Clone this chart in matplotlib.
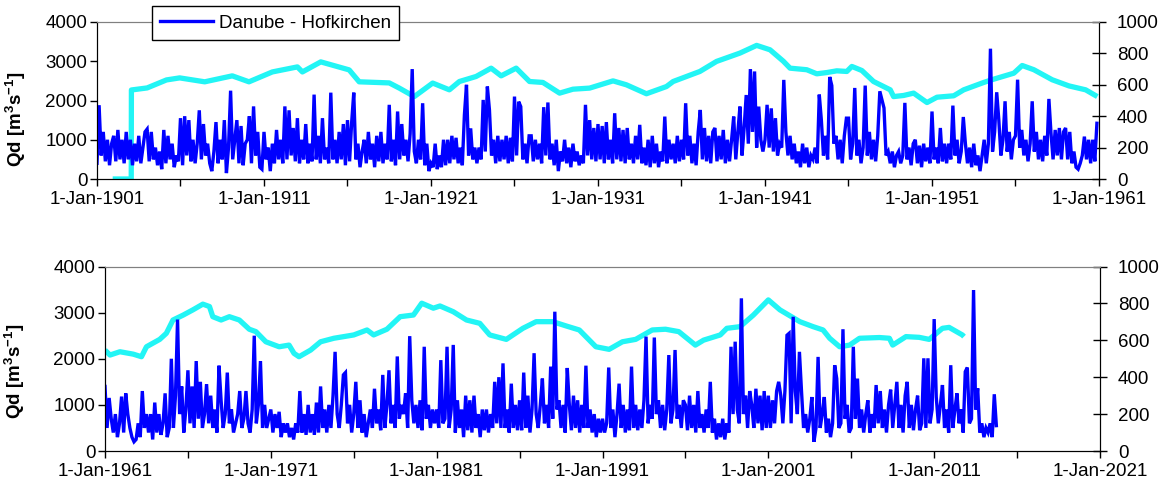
"""Danube at Hofkirchen: daily discharge with moving average, two panels."""
import matplotlib
matplotlib.use('Agg')
import matplotlib.pyplot as plt
from matplotlib.ticker import FixedLocator, MultipleLocator

plt.rcParams['font.family'] = ['Liberation Sans', 'DejaVu Sans']
plt.rcParams['mathtext.fontset'] = 'custom'
plt.rcParams['mathtext.rm'] = 'Liberation Sans'
plt.rcParams['mathtext.bf'] = 'Liberation Sans:bold'

SAMPLES_PER_YEAR = 8
LABEL = 'Danube - Hofkirchen'
FS = 13.5

# discharge [m3/s], 8 samples per year, one row per year from 1901
top_start = 1901
top_flow = [
    400, 1880, 600, 1200, 450, 1000, 350, 900,
    1100, 450, 1250, 500, 1000, 400, 1200, 500,
    1000, 350, 900, 450, 1100, 400, 800, 1200,
    1270, 450, 1200, 500, 800, 350, 700, 250,
    1250, 400, 1100, 500, 900, 300, 600, 450,
    1550, 350, 1600, 600, 1500, 450, 1000, 400,
    900, 1750, 500, 1400, 600, 900, 400, 200,
    700, 1450, 400, 1000, 500, 1500, 150, 800,
    2250, 500, 1000, 1500, 400, 1350, 350, 900,
    1000, 1600, 400, 1850, 600, 1200, 300, 250,
    1200, 500, 800, 200, 900, 400, 1250, 500,
    1000, 400, 1850, 500, 1750, 600, 1300, 450,
    1550, 400, 1000, 500, 1400, 400, 900, 450,
    2150, 500, 1100, 400, 1550, 500, 800, 400,
    2200, 500, 1000, 400, 1200, 500, 1400, 350,
    1500, 450, 1450, 2200, 500, 900, 300, 700,
    1000, 400, 1200, 500, 900, 300, 1100, 450,
    1200, 400, 900, 500, 1890, 450, 1000, 350,
    1720, 500, 1400, 600, 1000, 450, 1150, 2800,
    700, 400, 1000, 500, 1930, 350, 900, 200,
    400, 300, 900, 250, 600, 300, 1000, 350,
    1000, 400, 1100, 500, 1050, 400, 800, 350,
    1630, 2400, 600, 1290, 500, 800, 400, 800,
    500, 2015, 700, 2355, 1760, 600, 1000, 400,
    1100, 450, 1000, 500, 1100, 400, 1050, 450,
    2100, 600, 1970, 1845, 500, 900, 400, 1100,
    1100, 450, 1000, 500, 900, 400, 1830, 600,
    1950, 500, 900, 350, 1000, 200, 700, 450,
    1000, 400, 800, 300, 900, 450, 700, 350,
    600, 400, 1890, 600, 1500, 500, 1300, 450,
    1400, 500, 1350, 400, 1450, 500, 1000, 400,
    1675, 500, 1300, 450, 1250, 400, 1300, 500,
    900, 400, 1100, 500, 1380, 400, 800, 350,
    1000, 300, 1100, 400, 900, 300, 700, 450,
    1590, 400, 1000, 500, 900, 400, 1100, 450,
    1000, 500, 1930, 600, 1100, 400, 900, 350,
    1200, 1760, 500, 1300, 450, 1100, 400, 1200,
    1300, 450, 1100, 500, 1250, 400, 1000, 450,
    1000, 1590, 500, 1200, 1845, 600, 1300, 2140,
    900, 2800, 1200, 2740, 800, 1845, 1000, 700,
    1000, 1890, 800, 1800, 700, 1550, 600, 900,
    800, 2525, 1200, 600, 1100, 500, 900, 400,
    700, 300, 900, 400, 800, 300, 600, 500,
    800, 400, 2150, 1500, 600, 1100, 500, 2600,
    2380, 900, 1100, 500, 1000, 400, 1100, 1550,
    1550, 500, 900, 2320, 600, 1000, 400, 800,
    2380, 600, 1200, 500, 1000, 450, 1100, 2235,
    2020, 1810, 600, 700, 400, 700, 300, 600,
    700, 400, 600, 1940, 500, 800, 350, 900,
    1000, 400, 850, 300, 900, 450, 800, 400,
    1720, 500, 800, 400, 1300, 450, 900, 400,
    900, 500, 1870, 600, 1000, 400, 700, 1580,
    900, 400, 800, 300, 900, 350, 600, 200,
    600, 1000, 400, 900, 3320, 700, 1200, 2210,
    1510, 600, 1000, 1980, 700, 1200, 500, 1000,
    1100, 2530, 800, 1250, 600, 1000, 450, 900,
    1980, 700, 1200, 500, 1000, 450, 1100, 600,
    2040, 1170, 500, 1250, 600, 1300, 500, 1200,
    1300, 500, 1200, 400, 700, 300, 250, 400,
    600, 1080, 500, 1000, 400, 1000, 450, 1420,
]

# discharge [m3/s], 8 samples per year, one row per year from 1961
bottom_start = 1961
bottom_flow = [
    1400, 500, 1150, 700, 400, 800, 300, 600,
    1180, 400, 1250, 800, 500, 300, 200, 250,
    600, 300, 1300, 500, 800, 400, 800, 250,
    1050, 400, 800, 350, 600, 1250, 300, 500,
    2000, 500, 1200, 2850, 800, 1400, 400, 900,
    1750, 600, 1400, 500, 1950, 700, 1500, 500,
    800, 1450, 600, 1200, 500, 900, 400, 1850,
    1100, 500, 800, 1700, 600, 900, 400, 600,
    800, 1300, 500, 700, 1300, 600, 400, 900,
    2500, 600, 1000, 1950, 500, 1000, 500, 700,
    900, 400, 800, 500, 850, 300, 600, 400,
    600, 300, 500, 250, 600, 400, 1300, 400,
    800, 350, 1000, 400, 800, 350, 1050, 400,
    1400, 500, 900, 400, 1000, 500, 1200, 2150,
    800, 500, 1000, 1650, 1700, 600, 1000, 400,
    800, 1500, 500, 1100, 400, 800, 300, 600,
    900, 500, 1350, 600, 900, 450, 1650, 500,
    1000, 1750, 600, 1000, 500, 2050, 700, 1000,
    800, 1250, 500, 2490, 1100, 600, 1000, 500,
    1100, 450, 2260, 700, 1000, 500, 900, 600,
    900, 500, 1970, 600, 700, 2260, 500, 900,
    2300, 400, 1100, 500, 900, 300, 1200, 450,
    1100, 400, 1200, 500, 800, 300, 900, 450,
    900, 400, 800, 500, 1500, 600, 1600, 500,
    1900, 500, 900, 400, 1460, 500, 1000, 450,
    1100, 450, 1700, 500, 1200, 400, 900, 2120,
    800, 500, 1000, 1570, 600, 1000, 500, 1830,
    700, 3020, 900, 1100, 500, 1000, 400, 1800,
    1000, 450, 1200, 500, 1100, 400, 1000, 500,
    1850, 500, 900, 400, 800, 300, 700, 400,
    700, 400, 600, 1810, 500, 900, 300, 800,
    1460, 500, 1000, 400, 900, 450, 1830, 500,
    1000, 450, 900, 500, 1100, 2480, 600, 1000,
    700, 2460, 800, 1100, 500, 1000, 450, 900,
    2080, 600, 900, 2190, 700, 1000, 500, 1100,
    1000, 450, 1200, 500, 1000, 400, 1300, 500,
    800, 400, 900, 500, 1500, 400, 700, 250,
    600, 300, 700, 250, 600, 400, 2260, 800,
    2370, 900, 600, 3310, 800, 1200, 500, 1300,
    1000, 500, 1350, 600, 1200, 450, 1300, 500,
    1200, 500, 1100, 600, 1300, 1500, 1200, 600,
    1300, 2510, 2550, 600, 2910, 1300, 800, 2150,
    1300, 500, 800, 400, 700, 1170, 200, 500,
    2040, 500, 800, 1170, 400, 700, 300, 600,
    1860, 1570, 500, 600, 2640, 700, 1000, 400,
    500, 2260, 700, 1570, 500, 900, 400, 800,
    1100, 400, 800, 500, 1430, 600, 1300, 500,
    900, 400, 1000, 1330, 500, 1000, 1500, 500,
    1000, 400, 1200, 1500, 500, 1000, 450, 900,
    1200, 450, 600, 2010, 500, 2010, 600, 900,
    2860, 1170, 600, 1000, 1430, 500, 900, 400,
    1860, 500, 900, 1250, 600, 900, 400, 1720,
    1810, 600, 700, 3490, 900, 1360, 400, 600,
    300, 500, 400, 600, 300, 1230, 550,
]

# moving average (right axis)
top_ma_years = [
    1901.94, 1903.05, 1903.06, 1904.0, 1905.16, 1905.95, 1907.45, 1909.1,
    1910.1, 1911.5, 1913.0, 1913.3, 1914.4, 1916.1, 1916.7, 1918.5, 1919.1,
    1920.0, 1921.1, 1922.1, 1922.7, 1923.7, 1924.6, 1925.2, 1926.1, 1926.9,
    1927.7, 1928.7, 1929.5, 1930.5, 1931.9, 1932.7, 1933.9, 1935.1, 1935.5,
    1937.1, 1938.1, 1939.5, 1940.5, 1941.3, 1942.1, 1942.5, 1943.5, 1944.1,
    1944.7, 1945.3, 1945.9, 1946.2, 1946.8, 1947.5, 1948.5, 1948.7, 1949.3,
    1949.9, 1950.7, 1951.3, 1952.3, 1952.9, 1954.1, 1954.7, 1955.9, 1956.4,
    1957.1, 1958.2, 1959.2, 1960.2, 1960.9,
]
top_ma_vals = [
    0, 0, 567, 580, 631, 644, 619, 657,
    619, 682, 714, 682, 746, 695, 619, 612, 579,
    525, 611, 568, 621, 653, 706, 657, 706, 621,
    615, 547, 572, 579, 625, 600, 543, 589, 621,
    685, 749, 802, 851, 823, 750, 706, 696, 670,
    678, 689, 685, 717, 691, 621, 568, 525, 532,
    547, 487, 521, 530, 568, 615, 636, 674, 723,
    696, 632, 593, 568, 525,
]
bottom_ma_years = [
    1961.0, 1961.3, 1961.9, 1962.7, 1963.2, 1963.5, 1964.3, 1964.7, 1965.1,
    1965.7, 1966.3, 1966.9, 1967.3, 1967.5, 1968.0, 1968.5, 1969.1, 1969.7,
    1970.1, 1970.7, 1971.5, 1972.1, 1972.4, 1972.7, 1973.4, 1974.0, 1974.8,
    1976.0, 1976.8, 1977.2, 1978.0, 1978.8, 1979.6, 1980.1, 1980.8, 1981.2,
    1982.0, 1982.8, 1983.6, 1984.2, 1985.2, 1986.2, 1987.0, 1988.0, 1988.8,
    1989.6, 1990.6, 1991.4, 1992.2, 1993.0, 1994.0, 1994.8, 1995.6, 1996.6,
    1997.1, 1998.1, 1998.5, 1999.3, 2000.1, 2001.0, 2001.7, 2002.9, 2003.7,
    2004.3, 2004.7, 2005.3, 2005.9, 2006.5, 2007.7, 2008.3, 2008.5, 2009.3,
    2010.1, 2010.7, 2011.5, 2011.9, 2012.7, 2012.8,
]
bottom_ma_vals = [
    547, 520, 538, 525, 511, 565, 605, 638, 710,
    736, 765, 796, 783, 728, 710, 728, 710, 660,
    647, 592, 565, 574, 529, 511, 547, 592, 611,
    629, 656, 629, 660, 728, 737, 801, 774, 786,
    755, 710, 692, 629, 605, 665, 701, 701, 678,
    656, 565, 551, 592, 605, 656, 660, 647, 574,
    601, 629, 665, 674, 737, 819, 765, 701, 674,
    656, 611, 565, 574, 611, 615, 611, 574, 620,
    616, 605, 665, 670, 629, 620,
]


def draw_panel(rect, start, flow, ma_years, ma_vals, x0):
    """One panel: daily flow on the left axis, moving average on the right."""
    ax = fig.add_axes(rect)
    ax2 = ax.twinx()
    ax.set_zorder(ax2.get_zorder() + 1)
    ax.patch.set_visible(False)

    t = [start + i / SAMPLES_PER_YEAR for i in range(len(flow))]
    line, = ax.plot(t, flow, color='#0000FF', lw=2.4, label=LABEL,
                    solid_joinstyle='miter')
    ax2.plot(ma_years, ma_vals, color='#22F5F5', lw=3.8,
             solid_capstyle='butt')

    ax.set_xlim(x0, x0 + 60)
    ax.set_ylim(0, 4000)
    ax2.set_ylim(0, 1000)
    ax.yaxis.set_major_locator(MultipleLocator(1000))
    ax2.yaxis.set_major_locator(MultipleLocator(200))

    majors = list(range(x0, x0 + 61, 10))
    ax.xaxis.set_major_locator(FixedLocator(majors))
    ax.xaxis.set_minor_locator(FixedLocator([y + 5 for y in majors[:-1]]))
    ax.set_xticklabels([f'1-Jan-{y}' for y in majors])

    ax.tick_params(axis='both', which='both', direction='out', width=1,
                   labelsize=FS, colors='black')
    ax.tick_params(axis='x', which='major', length=5, pad=4)
    ax.tick_params(axis='x', which='minor', length=5)
    ax.tick_params(axis='y', length=5, pad=2)
    ax2.tick_params(axis='y', direction='inout', length=10, width=1,
                    labelsize=FS, pad=8)

    for a in (ax, ax2):
        a.spines['top'].set_color('#808080')
        for side in ('left', 'right', 'bottom'):
            a.spines[side].set_color('black')
    ax.set_ylabel(r'Qd [m$\mathbf{^3}$s$\mathbf{^{-1}}$]', fontsize=FS,
                  fontweight='bold')
    return ax, line


fig = plt.figure(figsize=(11.68, 4.88), dpi=100)
W, H = 1168, 488

ax_top, blue = draw_panel([97 / W, 1 - 179 / H, 1002 / W, 157 / H],
                          top_start, top_flow, top_ma_years, top_ma_vals, 1901)
ax_top.yaxis.set_label_coords(-0.069, 0.38)

ax_bot, _ = draw_panel([105 / W, 1 - 451 / H, 995 / W, 184.5 / H],
                       bottom_start, bottom_flow, bottom_ma_years,
                       bottom_ma_vals, 1961)
ax_bot.yaxis.set_label_coords(-0.078, 0.43)

fig.legend(handles=[blue], loc='upper left',
           bbox_to_anchor=(152 / W, 1 - 6 / H), borderaxespad=0,
           frameon=True, fancybox=False, edgecolor='black', framealpha=1,
           fontsize=FS, handlelength=2.8, handletextpad=0.3, borderpad=0.45)

fig.savefig('out.png', dpi=100)
plt.close(fig)
